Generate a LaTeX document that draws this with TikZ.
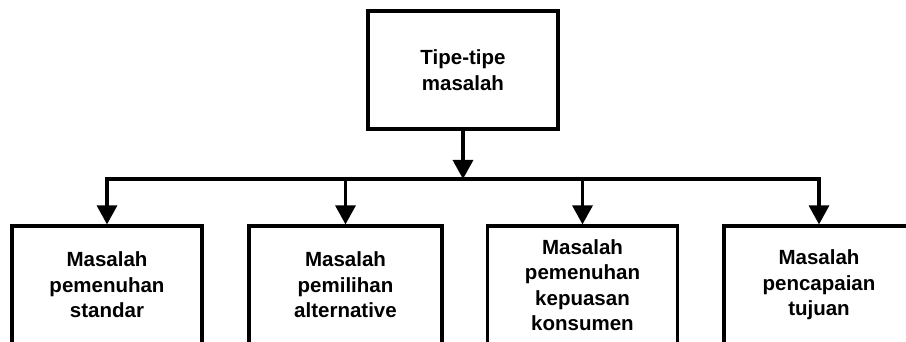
\documentclass[tikz,border=0pt]{standalone}
\usepackage{fontspec}
\setmainfont{Liberation Sans}
\usetikzlibrary{arrows.meta}
\begin{document}
\begin{tikzpicture}[x=1pt,y=-1pt,
  box/.style={draw=black,line width=3.2pt,minimum width=190pt,align=center,
    inner sep=0pt,font=\fontsize{20.5}{25.5}\selectfont\bfseries},
  link/.style={line width=3.2pt,-{Triangle[width=20pt,length=19pt]}},
  busline/.style={line width=3.2pt,line cap=rect}]
\useasboundingbox (0,0) rectangle (906,342);
\clip (0,0) rectangle (906,342);
% root box
\node[box,minimum height=118pt] (top) at (463,70) {Tipe-tipe\\masalah};
% child boxes (their lower part runs past the page edge)
\node[box,minimum height=118pt] (b1) at (107,285) {Masalah\\pemenuhan\\standar};
\node[box,minimum height=118pt,minimum width=193pt] (b2) at (345.5,285) {Masalah\\pemilihan\\alternative};
\node[box,minimum height=118pt] (b3) at (582.5,285) {Masalah\\pemenuhan\\kepuasan\\konsumen};
\node[box,minimum height=118pt] (b4) at (819,285) {Masalah\\pencapaian\\tujuan};
% distribution bus
\coordinate (bus) at (463,179);
\draw[link] (top.south) -- (bus);
\draw[busline] (b1.north |- bus) -- (b4.north |- bus);
\foreach \b in {b1,b2,b3,b4}
  \draw[link] (\b.north |- bus) -- (\b.north);
\end{tikzpicture}
\end{document}
